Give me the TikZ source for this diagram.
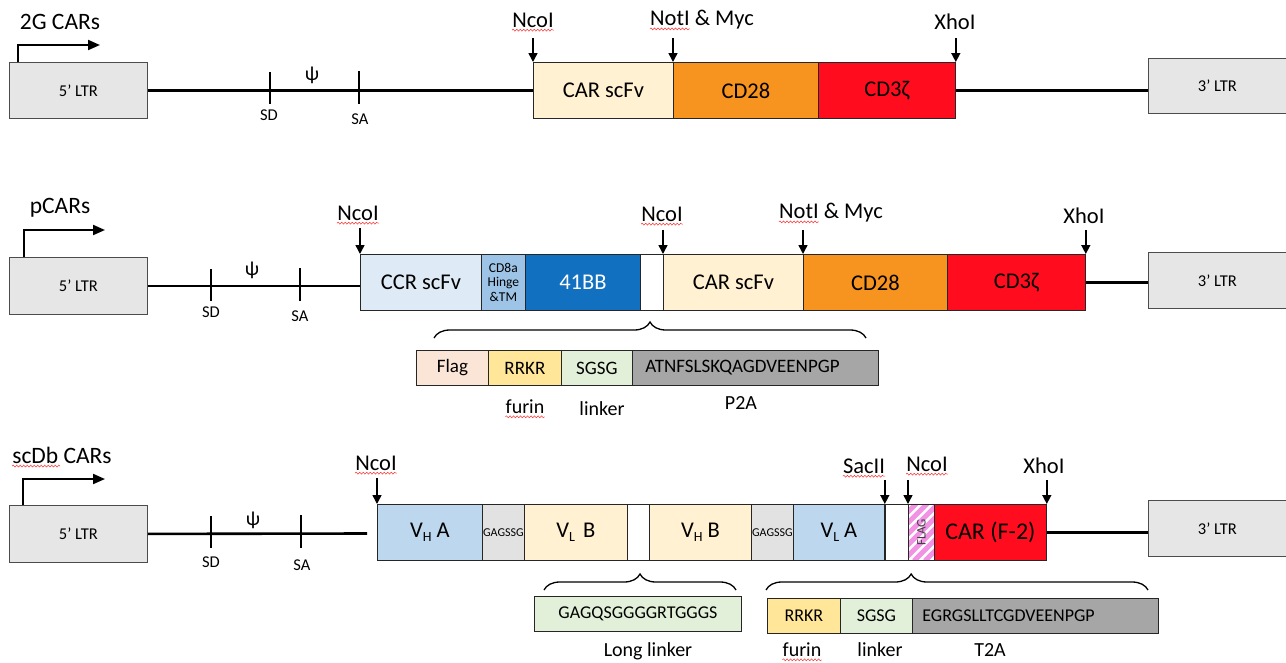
\documentclass[tikz,border=0pt]{standalone}
\usepackage{fontspec}
\setmainfont{Carlito}
\usetikzlibrary{arrows.meta,decorations.pathreplacing,decorations.pathmorphing,calc}
\definecolor{ltrgray}{HTML}{E6E6E6}
\definecolor{cream}{HTML}{FFF1D1}
\definecolor{orng}{HTML}{F7941F}
\definecolor{redd}{HTML}{FF0D1F}
\definecolor{ccrblue}{HTML}{DEEAF6}
\definecolor{cdblue}{HTML}{9DC3E6}
\definecolor{bbblue}{HTML}{1170C0}
\definecolor{vblue}{HTML}{BDD7EE}
\definecolor{ggray}{HTML}{E2E2E2}
\definecolor{peach}{HTML}{FBE5D6}
\definecolor{yel}{HTML}{FFE699}
\definecolor{lgreen}{HTML}{E2F0D9}
\definecolor{dgray}{HTML}{A6A6A6}
\definecolor{pinkst}{HTML}{F292E4}
\newcommand\fsz[1]{\fontsize{#1}{#1}\selectfont}
\newcommand\sbs[1]{\raisebox{-4.5pt}{\fsz{14}#1}}
\begin{document}
\begin{tikzpicture}[x=1pt,y=-1pt,
  seg/.style={draw=black!85, line width=0.8pt, anchor=north west, inner sep=0pt, minimum height=56pt, font=\fsz{22.5}},
  ltrbox/.style={seg, fill=ltrgray, draw=black!70, minimum width=138pt, font=\fsz{16.5}},
  seqbox/.style={draw=black!85, line width=0.8pt, anchor=north west, inner sep=0pt, minimum height=35pt, font=\fsz{19}},
  bb/.style={line width=2.6pt},
  tickmark/.style={line width=2.6pt},
  small/.style={font=\fsz{16.5}, inner sep=0pt},
  site/.style={font=\fsz{22.5}, inner sep=0pt},
  ttl/.style={font=\fsz{23.5}, inner sep=0pt},
  lab/.style={font=\fsz{20}, inner sep=0pt},
  psis/.style={font=\fsz{20}, inner sep=0pt},
  rarr/.style={line width=1.5pt, -{Triangle[width=9pt,length=9pt]}},
  prom/.style={line width=2pt, -{Triangle[width=10pt,length=12pt]}},
  wig/.style={red!80, line width=0.5pt, decorate, decoration={snake, amplitude=1pt, segment length=3.5pt}},
  brc/.style={line width=1.3pt, decorate, decoration={brace, amplitude=16pt}}]
\useasboundingbox (0,0) rectangle (1286,662);

%================ Row 1: 2G CARs
\node[ttl] (t1) at (60,22) {2G CARs};
\node[ltrbox] (ltrA) at (9,62) {5’ LTR};
\node[seg, fill=cream, minimum width=140pt] (scfvA) at (533,62) {CAR scFv};
\node[seg, fill=orng, minimum width=145pt] (cd28A) at (673,62) {CD28};
\node[seg, fill=redd, minimum width=137pt] (cd3A) at (818,62) {CD3ζ\hspace{24pt}};
\node[ltrbox, minimum height=55pt] (ltrA3) at (1148,58) {3’ LTR\hspace{22pt}};
\draw[prom] ([xshift=9pt]ltrA.north west) |- ([xshift=91pt,yshift=17pt]ltrA.north west);
\draw[bb] (ltrA.east) -- (ltrA.east -| scfvA.west);
\draw[bb] (cd3A.east) -- (cd3A.east -| ltrA3.west);
\draw[tickmark] (270,72) -- (270,104);
\draw[tickmark] (359,71) -- (359,104);
\node[small] (sdA) at (269,115) {SD};
\node[small] (saA) at (360,119) {SA};
\node[psis] (psiA) at (312,75) {ψ};
\node[site] (ncoA) at (533,20) {NcoI};
\node[site] (notA) at (702,20) {NotI \& Myc};
\node[site] (xhoA) at (955,22) {XhoI};
\draw[rarr] ([yshift=24pt]scfvA.north west) -- (scfvA.north west);
\draw[rarr] ([yshift=24pt]cd28A.north west) -- (cd28A.north west);
\draw[rarr] ([yshift=24pt]cd3A.north east) -- (cd3A.north east);
\draw[wig] ([yshift=-3pt]ncoA.base west) -- ([yshift=-3pt]ncoA.base east);
\draw[wig] ([yshift=-3pt]notA.base west) -- ++(40,0);

%================ Row 2: pCARs
\node[ttl] (t2) at (60,208) {pCARs};
\node[ltrbox, minimum height=57pt] (ltrB) at (9,257) {5’ LTR};
\node[seg, fill=ccrblue, minimum width=121pt] (ccr) at (360,254) {CCR scFv};
\node[seg, fill=cdblue, minimum width=44pt, font=\fsz{13.5}, align=center] (cd8) at (481,254) {CD8a\\[1pt]Hinge\\[1pt]\&TM};
\node[seg, fill=bbblue, minimum width=115pt, text=white] (bbb) at (525,254) {41BB};
\node[seg, fill=white, minimum width=23pt] (wB) at (640,254) {};
\node[seg, fill=cream, minimum width=140pt] (scfvB) at (663,254) {CAR scFv};
\node[seg, fill=orng, minimum width=144pt] (cd28B) at (803,254) {CD28};
\node[seg, fill=redd, minimum width=138pt] (cd3B) at (947,254) {CD3ζ\hspace{30pt}};
\node[ltrbox] (ltrB3) at (1148,252) {3’ LTR\hspace{22pt}};
\draw[prom] ([xshift=15pt]ltrB.north west) |- ([xshift=96pt,yshift=27pt]ltrB.north west);
\draw[bb] (ltrB.east) -- (ltrB.east -| ccr.west);
\draw[bb] (cd3B.east) -- (cd3B.east -| ltrB3.west);
\draw[tickmark] (211,269) -- (211,301);
\draw[tickmark] (300,268) -- (300,301);
\node[small] (sdB) at (211,312) {SD};
\node[small] (saB) at (300,316) {SA};
\node[psis] (psiB) at (252,270) {ψ};
\node[site] (ncoB1) at (358,213) {NcoI};
\node[site] (ncoB2) at (662,214) {NcoI};
\node[site] (notB) at (831,213) {NotI \& Myc};
\node[site] (xhoB) at (1084,216) {XhoI};
\draw[rarr] ([yshift=26pt]ccr.north west) -- (ccr.north west);
\draw[rarr] ([yshift=24pt]scfvB.north west) -- (scfvB.north west);
\draw[rarr] ([yshift=24pt]cd28B.north west) -- (cd28B.north west);
\draw[rarr] ([yshift=24pt]cd3B.north east) -- (cd3B.north east);
\draw[wig] ([yshift=-3pt]ncoB1.base west) -- ([yshift=-3pt]ncoB1.base east);
\draw[wig] ([yshift=-3pt]ncoB2.base west) -- ([yshift=-3pt]ncoB2.base east);
\draw[wig] ([yshift=-3pt]notB.base west) -- ++(40,0);
% P2A cassette
\coordinate (brB1) at (434,338);
\coordinate (brB2) at (866,338);
\draw[brc] (brB1) -- (brB2);
\node[seqbox, fill=peach, minimum width=72pt] (flg) at (416,350) {Flag};
\node[seqbox, fill=yel, minimum width=73pt] (rrkrB) at (488,350) {RRKR};
\node[seqbox, fill=lgreen, minimum width=71pt] (sgsgB) at (561,350) {SGSG};
\node[seqbox, fill=dgray, minimum width=246pt, text width=220pt, align=left] (p2a) at (632,350) {ATNFSLSKQAGDVEENPGP};
\node[lab] (furB) at (525,407) {furin};
\node[lab] (linB) at (602,409) {linker};
\node[lab] (p2al) at (741,403) {P2A};
\draw[wig] ([yshift=-3pt]furB.base west) -- ([yshift=-3pt]furB.base east);

%================ Row 3: scDb CARs
\node[ttl] (t3) at (62,455) {scDb CARs};
\node[ltrbox, minimum height=57pt] (ltrC) at (9,505) {5’ LTR};
\node[seg, fill=vblue, minimum width=105pt] (vhA) at (377,504) {V\sbs{H}\hspace{5pt}A\hspace{14pt}};
\node[seg, fill=ggray, minimum width=42pt, font=\fsz{12}] (g1) at (482,504) {GAGSSG};
\node[seg, fill=cream, minimum width=103pt] (vlB) at (524,504) {V\sbs{L}\hspace{8pt}B};
\node[seg, fill=white, minimum width=22pt] (wC1) at (627,504) {};
\node[seg, fill=cream, minimum width=102pt] (vhB) at (649,504) {V\sbs{H}\hspace{5pt}B};
\node[seg, fill=ggray, minimum width=42pt, font=\fsz{12}] (g2) at (751,504) {GAGSSG};
\node[seg, fill=vblue, minimum width=91pt] (vlA) at (793,504) {V\sbs{L}\hspace{5pt}A\hspace{10pt}};
\node[seg, fill=white, minimum width=23pt] (wC2) at (885,504) {};
\node[seg, fill=white, minimum width=26pt] (flagC) at (908,504) {};
\begin{scope}
\clip (flagC.south west) rectangle (flagC.north east);
\foreach \i in {0,...,12} \draw[pinkst, line width=5pt] ($(flagC.south west)+(\i*11-60,0)$) -- ++(70,-70);
\end{scope}
\node[draw=black!85, line width=0.8pt, anchor=north west, inner sep=0pt, minimum width=26pt, minimum height=56pt] (flagF) at (908,504) {};
\node[rotate=90, font=\fsz{13}, text=black!75, inner sep=0pt] (flagT) at (flagF.center) {FLAG};
\node[seg, fill=redd, minimum width=112pt, font=\fsz{24}] (carF) at (934,504) {CAR (F-2)\hspace{22pt}};
\node[ltrbox] (ltrC3) at (1148,500) {3’ LTR\hspace{22pt}};
\coordinate (endC) at (367,533.5);
\draw[prom] ([xshift=14pt]ltrC.north west) |- ([xshift=96pt,yshift=26pt]ltrC.north west);
\draw[bb] (ltrC.east) -- (endC);
\draw[bb] (carF.east) -- (carF.east -| ltrC3.west);
\draw[tickmark] (211,516) -- (211,548);
\draw[tickmark] (301,515) -- (301,548);
\node[small] (sdC) at (211,562) {SD};
\node[small] (saC) at (302,565) {SA};
\node[psis] (psiC) at (253,520) {ψ};
\node[site] (ncoC1) at (376,463) {NcoI};
\node[site] (sacC) at (864,466) {SacII};
\node[site] (ncoC2) at (927,464) {NcoI};
\node[site] (xhoC) at (1044,466) {XhoI};
\draw[rarr] ([yshift=26pt]vhA.north west) -- (vhA.north west);
\draw[rarr] ([yshift=24pt]vlA.north east) -- (vlA.north east);
\draw[rarr] ([yshift=24pt]flagF.north west) -- (flagF.north west);
\draw[rarr] ([yshift=24pt]carF.north east) -- (carF.north east);
\draw[wig] ([yshift=-3pt]t3.base west) -- ++(48,0);
\draw[wig] ([yshift=-3pt]ncoC1.base west) -- ([yshift=-3pt]ncoC1.base east);
\draw[wig] ([yshift=-3pt]sacC.base west) -- ([yshift=-3pt]sacC.base east);
\draw[wig] ([yshift=-3pt]ncoC2.base west) -- ([yshift=-3pt]ncoC2.base east);
% linkers
\coordinate (brC1) at (544,590);
\coordinate (brC2) at (736,590);
\coordinate (brC3) at (766,590);
\coordinate (brC4) at (1148,590);
\draw[brc] (brC1) -- (brC2);
\draw[brc, decoration={brace, amplitude=16pt, aspect=0.38}] (brC3) -- (brC4);
\node[seqbox, fill=lgreen, minimum width=207pt, font=\fsz{18}] (longl) at (534,596) {GAGQSGGGGRTGGGS};
\node[seqbox, fill=yel, minimum width=73pt, font=\fsz{18}] (rrkrC) at (767,598) {RRKR};
\node[seqbox, fill=lgreen, minimum width=72pt, font=\fsz{18}] (sgsgC) at (840,598) {SGSG};
\node[seqbox, fill=dgray, minimum width=246pt, text width=226pt, align=left, font=\fsz{18}] (t2a) at (912,598) {EGRGSLLTCGDVEENPGP};
\node[lab] (llab) at (648,651) {Long linker};
\node[lab] (furC) at (802,650) {furin};
\node[lab] (linC) at (880,650) {linker};
\node[lab] (t2al) at (990,650) {T2A};
\draw[wig] ([yshift=-3pt]furC.base west) -- ([yshift=-3pt]furC.base east);
\end{tikzpicture}
\end{document}
